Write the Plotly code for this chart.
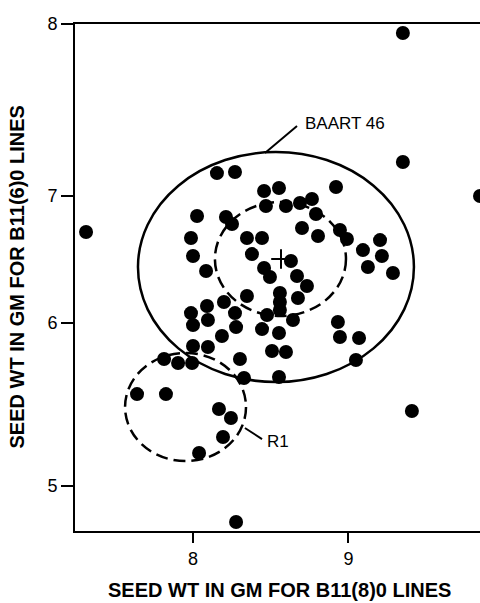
import plotly.graph_objects as go

# Seed weight (g) of individual lines
seed_wt_b11_8 = [
    7.312, 9.350, 9.350, 9.846, 9.408, 8.277, 8.154, 8.270, 8.457, 8.553,
    8.920, 8.026, 8.212, 8.251, 8.469, 8.598, 8.688, 8.765, 8.791, 8.701,
    8.804, 8.945, 8.990, 7.987, 8.347, 8.444, 8.379, 8.000, 9.093, 9.203,
    9.215, 9.125, 9.286, 8.630, 8.457, 8.495, 8.669, 8.733, 8.559, 8.559,
    8.347, 8.675, 8.559, 8.476, 8.643, 8.444, 8.553, 8.508, 8.598, 8.553,
    8.302, 8.328, 8.932, 8.945, 9.068, 9.048, 8.084, 8.199, 8.090, 7.987,
    8.096, 8.000, 8.270, 8.277, 8.186, 8.000, 8.096, 7.814, 7.904, 7.994,
    7.640, 7.826, 8.167, 8.244, 8.193, 8.039,
]
seed_wt_b11_6 = [
    6.649, 7.942, 7.104, 6.883, 5.487, 4.766, 7.032, 7.039, 6.916, 6.935,
    6.942, 6.753, 6.747, 6.701, 6.818, 6.818, 6.838, 6.864, 6.766, 6.675,
    6.623, 6.662, 6.604, 6.610, 6.610, 6.610, 6.506, 6.494, 6.532, 6.597,
    6.494, 6.422, 6.383, 6.461, 6.416, 6.357, 6.364, 6.299, 6.253, 6.195,
    6.234, 6.221, 6.143, 6.110, 6.078, 6.019, 5.994, 5.877, 5.870, 5.708,
    5.825, 5.701, 6.065, 5.968, 5.961, 5.818, 6.396, 6.195, 6.169, 6.123,
    6.078, 6.045, 6.123, 6.032, 5.974, 5.909, 5.903, 5.825, 5.799, 5.799,
    5.597, 5.597, 5.500, 5.442, 5.318, 5.214,
]

# Mean of the B11 population
center_x = [8.566]
center_y = [6.474]

# Group outlines: (x0, x1, y0, y1)
baart46_outline = (7.646, 9.421, 5.675, 7.169)
baart46_core = (8.141, 8.984, 6.104, 6.844)
r1_outline = (7.563, 8.341, 5.162, 5.864)

x_tick_vals = [8, 9]
x_tick_text = ["8", "9"]
y_tick_vals = [5.0, 6.058, 6.883, 8.0]
y_tick_text = ["5", "6", "7", "8"]

FONT = "Helvetica, Arial, Liberation Sans, sans-serif"

fig = go.Figure()

fig.add_trace(go.Scatter(
    x=seed_wt_b11_8, y=seed_wt_b11_6, mode="markers",
    marker=dict(color="black", size=14, line=dict(width=0)),
    showlegend=False, hoverinfo="x+y",
))
fig.add_trace(go.Scatter(
    x=center_x, y=center_y, mode="markers",
    marker=dict(symbol="cross-thin", size=14, line=dict(color="black", width=2)),
    showlegend=False, hoverinfo="skip",
))

def ellipse(box, dash):
    x0, x1, y0, y1 = box
    return dict(type="circle", xref="x", yref="y", x0=x0, x1=x1, y0=y0, y1=y1,
                line=dict(color="black", width=2.5, dash=dash), layer="above")

shapes = [
    ellipse(baart46_outline, "solid"),
    ellipse(baart46_core, "12px,6px"),
    ellipse(r1_outline, "12px,6px"),
    # leader lines for the group labels
    dict(type="line", xref="x", yref="y", x0=8.669, y0=7.338, x1=8.463, y1=7.162,
         line=dict(color="black", width=2)),
    dict(type="line", xref="x", yref="y", x0=8.334, y0=5.377, x1=8.444, y1=5.305,
         line=dict(color="black", width=2)),
]

annotations = [
    dict(x=8.707, y=7.357, xref="x", yref="y", text="BAART 46", showarrow=False,
         xanchor="left", yanchor="middle", font=dict(family=FONT, size=17, color="black")),
    dict(x=8.463, y=5.286, xref="x", yref="y", text="R1", showarrow=False,
         xanchor="left", yanchor="middle", font=dict(family=FONT, size=17, color="black")),
    dict(x=0.505, y=-0.1164, xref="paper", yref="paper", text="<b>SEED WT IN GM FOR B11(8)0 LINES</b>",
         showarrow=False, xanchor="center", yanchor="middle",
         font=dict(family=FONT, size=20, color="black")),
    dict(x=-0.142, y=0.501, xref="paper", yref="paper", text="<b>SEED WT IN GM FOR B11(6)0 LINES</b>",
         showarrow=False, xanchor="center", yanchor="middle", textangle=-90,
         font=dict(family=FONT, size=20, color="black")),
]

fig.update_layout(
    width=480, height=603,
    margin=dict(l=75, r=0, t=24, b=72),
    paper_bgcolor="white", plot_bgcolor="white",
    shapes=shapes, annotations=annotations,
    font=dict(family=FONT, color="black"),
    xaxis=dict(
        range=[7.241, 9.846], tickvals=x_tick_vals, ticktext=x_tick_text,
        showgrid=False, zeroline=False, showline=True, linecolor="black", linewidth=2,
        mirror=True, ticks="outside", ticklen=10, tickwidth=2, tickcolor="black",
        tickfont=dict(family=FONT, size=18, color="black"),
    ),
    yaxis=dict(
        range=[4.708, 8.0], tickvals=y_tick_vals, ticktext=y_tick_text,
        showgrid=False, zeroline=False, showline=True, linecolor="black", linewidth=2,
        mirror=False, ticks="outside", ticklen=12, tickwidth=2, tickcolor="black",
        tickfont=dict(family=FONT, size=18, color="black"),
    ),
)

fig.write_html("out.html")
